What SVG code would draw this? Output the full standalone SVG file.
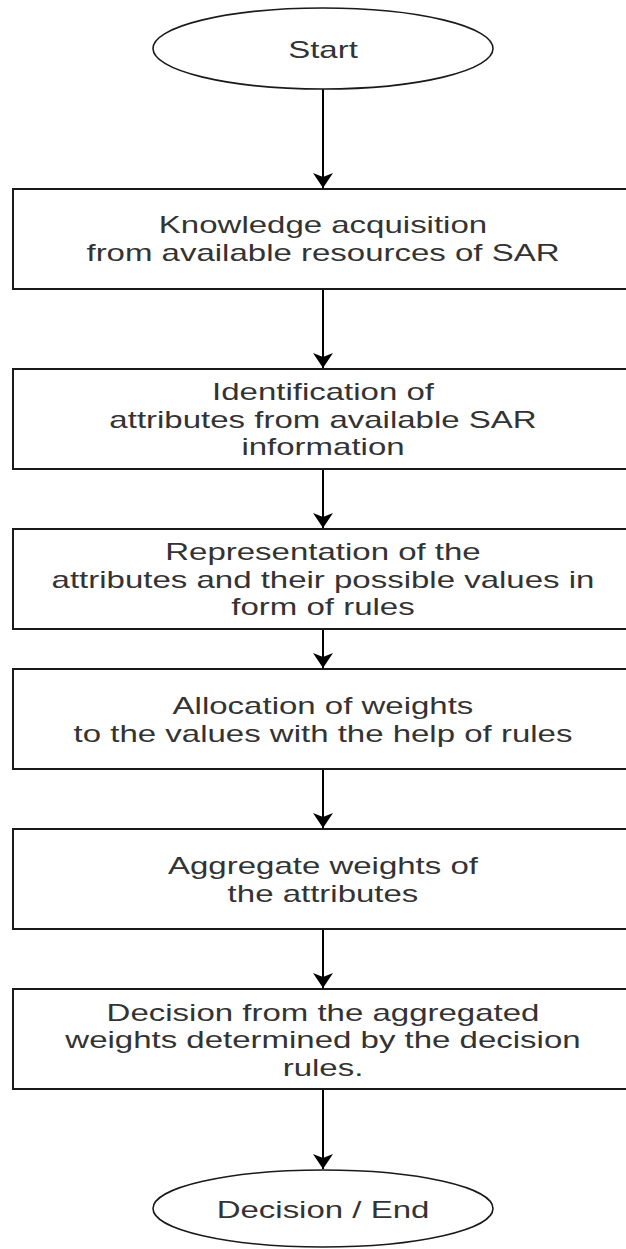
<svg xmlns="http://www.w3.org/2000/svg" width="626" height="1249" viewBox="0 0 626 1249">
  <style>
    .shape { fill: #ffffff; stroke: #1a1a1a; stroke-width: 2; }
    .oval { fill: #ffffff; stroke: #1a1a1a; stroke-width: 1.6; }
    .label { font-family: "Liberation Sans", Arial, sans-serif; font-size: 24px; fill: #333333; text-anchor: middle; }
    .edge { fill: none; stroke: #000000; stroke-width: 2; }
  </style>
  <defs>
    <!-- classic filled arrowhead, tip at the marker origin, pointing along +x -->
    <marker id="arrow" markerUnits="userSpaceOnUse" markerWidth="18" markerHeight="24" viewBox="-16 -12 18 24" refX="0" refY="0" orient="auto">
      <path d="M -15 -10 L 0 0 L -15 10 L -11 0 Z" fill="#000000"/>
    </marker>
  </defs>
  <rect width="626" height="1249" fill="#ffffff"/>

  <!-- connectors -->
  <g id="connectors">
    <line class="edge" x1="323" y1="89" x2="323" y2="188" marker-end="url(#arrow)"/>
    <line class="edge" x1="323" y1="289" x2="323" y2="368" marker-end="url(#arrow)"/>
    <line class="edge" x1="323" y1="469" x2="323" y2="528" marker-end="url(#arrow)"/>
    <line class="edge" x1="323" y1="629" x2="323" y2="668" marker-end="url(#arrow)"/>
    <line class="edge" x1="323" y1="769" x2="323" y2="828" marker-end="url(#arrow)"/>
    <line class="edge" x1="323" y1="929" x2="323" y2="988" marker-end="url(#arrow)"/>
    <line class="edge" x1="323" y1="1089" x2="323" y2="1169" marker-end="url(#arrow)"/>
  </g>

  <g id="start">
    <ellipse class="oval" cx="323" cy="48.5" rx="170" ry="40.5"/>
    <g transform="matrix(1.375 0 0 1 -121.125 0)">
      <text class="label" x="323" y="58">Start</text>
    </g>
  </g>

  <g id="knowledge">
    <rect class="shape" x="13" y="189" width="620" height="100"/>
    <g transform="matrix(1.375 0 0 1 -121.125 0)">
      <text class="label" x="323" y="233">Knowledge acquisition</text>
      <text class="label" x="323" y="261">from available resources of SAR</text>
    </g>
  </g>

  <g id="identification">
    <rect class="shape" x="13" y="369" width="620" height="100"/>
    <g transform="matrix(1.375 0 0 1 -121.125 0)">
      <text class="label" x="323" y="400">Identification of</text>
      <text class="label" x="323" y="428">attributes from available SAR</text>
      <text class="label" x="323" y="455">information</text>
    </g>
  </g>

  <g id="representation">
    <rect class="shape" x="13" y="529" width="620" height="100"/>
    <g transform="matrix(1.375 0 0 1 -121.125 0)">
      <text class="label" x="323" y="560">Representation of the</text>
      <text class="label" x="323" y="588">attributes and their possible values in</text>
      <text class="label" x="323" y="615">form of rules</text>
    </g>
  </g>

  <g id="allocation">
    <rect class="shape" x="13" y="669" width="620" height="100"/>
    <g transform="matrix(1.375 0 0 1 -121.125 0)">
      <text class="label" x="323" y="714">Allocation of weights</text>
      <text class="label" x="323" y="742">to the values with the help of rules</text>
    </g>
  </g>

  <g id="aggregate">
    <rect class="shape" x="13" y="829" width="620" height="100"/>
    <g transform="matrix(1.375 0 0 1 -121.125 0)">
      <text class="label" x="323" y="874">Aggregate weights of</text>
      <text class="label" x="323" y="902">the attributes</text>
    </g>
  </g>

  <g id="decision">
    <rect class="shape" x="13" y="989" width="620" height="100"/>
    <g transform="matrix(1.375 0 0 1 -121.125 0)">
      <text class="label" x="323" y="1021">Decision from the aggregated</text>
      <text class="label" x="323" y="1048">weights determined by the decision</text>
      <text class="label" x="323" y="1076">rules.</text>
    </g>
  </g>

  <g id="end">
    <ellipse class="oval" cx="323" cy="1208.5" rx="170" ry="38.5"/>
    <g transform="matrix(1.375 0 0 1 -121.125 0)">
      <text class="label" x="323" y="1218">Decision / End</text>
    </g>
  </g>
</svg>
